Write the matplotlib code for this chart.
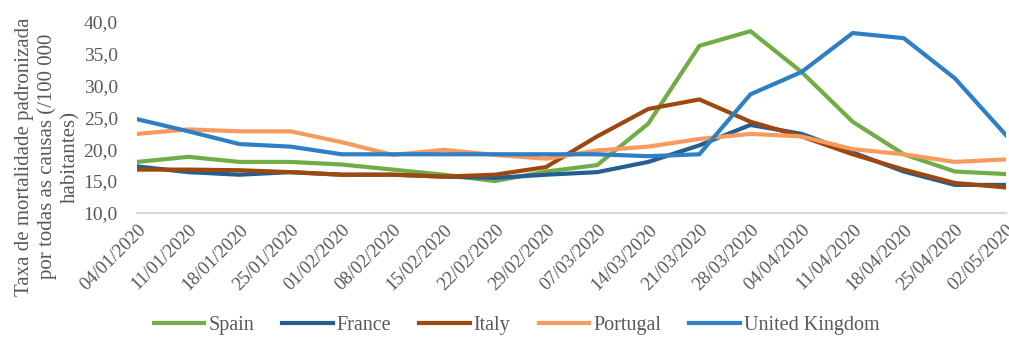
import matplotlib
matplotlib.use('Agg')
import matplotlib.pyplot as plt
from matplotlib.ticker import FuncFormatter

plt.rcParams['font.family'] = ['Liberation Serif', 'DejaVu Serif']

# weekly dates
dates = ['04/01/2020', '11/01/2020', '18/01/2020', '25/01/2020', '01/02/2020',
         '08/02/2020', '15/02/2020', '22/02/2020', '29/02/2020', '07/03/2020',
         '14/03/2020', '21/03/2020', '28/03/2020', '04/04/2020', '11/04/2020',
         '18/04/2020', '25/04/2020', '02/05/2020']

spain = [18.0, 18.8, 18.0, 18.0, 17.6, 16.8, 16.0, 15.0, 16.5, 17.5,
         24.0, 36.2, 38.5, 32.1, 24.3, 19.2, 16.5, 16.1]
france = [17.3, 16.4, 16.0, 16.4, 16.0, 16.0, 15.7, 15.5, 16.0, 16.4,
          18.0, 20.6, 23.8, 22.4, 19.5, 16.5, 14.4, 14.4]
italy = [16.8, 16.8, 16.7, 16.4, 16.0, 16.0, 15.7, 16.0, 17.2, 22.0,
         26.3, 27.8, 24.3, 22.0, 19.2, 16.8, 14.7, 14.0]
portugal = [22.4, 23.1, 22.8, 22.8, 21.1, 19.1, 19.9, 19.1, 18.5, 19.8,
            20.4, 21.6, 22.4, 22.0, 20.0, 19.2, 18.0, 18.4]
uk = [24.7, 22.8, 20.8, 20.4, 19.2, 19.2, 19.2, 19.2, 19.2, 19.2,
      18.9, 19.2, 28.6, 32.1, 38.2, 37.4, 31.1, 22.2]

fig = plt.figure(figsize=(10.09, 3.37), dpi=100)
ax = fig.add_axes([0.136, 0.368, 0.861, 0.568])

x = range(len(dates))
ax.plot(x, spain, color='#70AD47', lw=3, label='Spain')
ax.plot(x, france, color='#255E91', lw=3, label='France')
ax.plot(x, italy, color='#9E480E', lw=3, label='Italy')
ax.plot(x, portugal, color='#F79A5E', lw=3, label='Portugal')
ax.plot(x, uk, color='#2E7FC6', lw=3, label='United Kingdom')

ax.set_xlim(0, len(dates) - 1)
ax.set_ylim(10, 40)
ax.set_yticks([10, 15, 20, 25, 30, 35, 40])
ax.yaxis.set_major_formatter(FuncFormatter(lambda v, p: f'{v:.1f}'.replace('.', ',')))
ax.set_xticks(list(x))
ax.set_xticklabels(dates, rotation=45, ha='right', rotation_mode='anchor', fontsize=13.5)

for s in ['top', 'right', 'left']:
    ax.spines[s].set_visible(False)
ax.spines['bottom'].set_color('#D9D9D9')
ax.spines['bottom'].set_linewidth(1.5)
ax.tick_params(axis='both', length=0, colors='#595959')
ax.tick_params(axis='y', pad=14, labelsize=14)
ax.tick_params(axis='x', pad=6)

fig.text(0.047, 0.535, 'Taxa de mortalidade padronizada\npor todas as causas (/100 000\nhabitantes)',
         fontsize=15, color='#595959', linespacing=1.25, rotation=90,
         ha='center', va='center', multialignment='center')

fig.legend(loc='center', bbox_to_anchor=(0.512, 0.035), ncol=5, frameon=False,
           fontsize=14.5, handlelength=2.5, columnspacing=1.4, handletextpad=0.2,
           labelcolor='#595959')

fig.savefig('out.png', dpi=100)
